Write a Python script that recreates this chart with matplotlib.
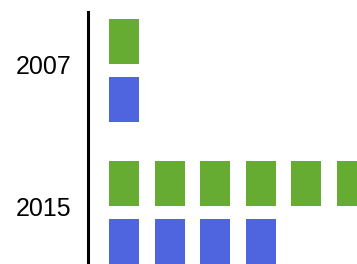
import numpy as np
import matplotlib.pyplot as plt

# Datos: número de iconos por año
years = ['2007', '2015']
green_counts = [1, 6]
blue_counts = [1, 4]

green = '#66ab32'
blue = '#4f64df'

fig = plt.figure(figsize=(3.57, 2.64), dpi=100)
ax = fig.add_axes([88 / 357, 0, (357 - 88) / 357, (264 - 12) / 264])

ypos = np.arange(len(years))
off = 0.204
h = 0.317
w = 0.66

for y, ng, nb in zip(ypos, green_counts, blue_counts):
    xs = np.arange(ng)
    ax.bar(xs, h, width=w, bottom=y - off - h / 2, color=green)
    xs = np.arange(nb)
    ax.bar(xs, h, width=w, bottom=y + off - h / 2, color=blue)

ax.set_xlim(-0.8, 5.11)
ax.set_ylim(1.366, -0.41)

ax.set_yticks(ypos - 0.04)
ax.set_yticklabels(years, family='Liberation Sans', fontsize=18)
ax.tick_params(axis='y', length=0, pad=12)
ax.set_xticks([])
for s in ['top', 'right', 'bottom']:
    ax.spines[s].set_visible(False)
ax.spines['left'].set_linewidth(2.2)

fig.savefig('out.png', dpi=100)
